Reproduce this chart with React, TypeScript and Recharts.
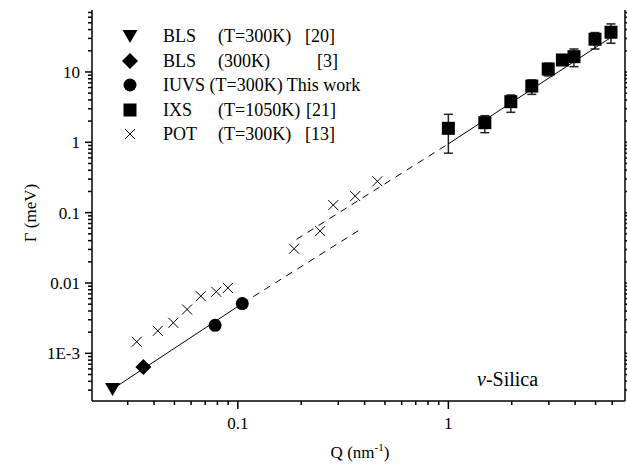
import React from 'react';
import { ScatterChart, Scatter, XAxis, YAxis, ErrorBar } from 'recharts';

// BLS (T=300K) [20]
const blsQ = [0.0254];
const blsG = [3.1e-4];
// BLS (300K) [3]
const bls3Q = [0.0356];
const bls3G = [6.4e-4];
// IUVS (T=300K) this work
const iuvsQ = [0.078, 0.105];
const iuvsG = [2.5e-3, 5.1e-3];
// POT (T=300K) [13]
const potQ = [0.0331, 0.0417, 0.0494, 0.0574, 0.0667, 0.079, 0.0897, 0.185, 0.246, 0.284, 0.361, 0.46];
const potG = [1.46e-3, 2.09e-3, 2.72e-3, 4.2e-3, 6.5e-3, 7.5e-3, 8.5e-3, 0.0307, 0.0547, 0.128, 0.172, 0.279];
// IXS (T=1050K) [21]
const ixsQ = [1.0, 1.49, 1.98, 2.49, 2.98, 3.48, 3.95, 4.97, 5.92];
const ixsG = [1.58, 1.9, 3.78, 6.3, 11.0, 14.8, 16.5, 29.2, 36.7];
const ixsLo = [0.7, 1.37, 2.67, 4.8, 8.8, 13.0, 11.9, 21.2, 25.6];
const ixsHi = [2.5, 2.39, 4.7, 7.7, 13.3, 16.5, 21.2, 36.3, 48.2];

// fit lines (end points)
const lowSolidQ = [0.0254, 0.105];
const lowSolidG = [3.1e-4, 5.1e-3];
const lowDashQ = [0.105, 0.39];
const lowDashG = [5.1e-3, 0.06];
const highDashQ = [0.19, 1.0];
const highDashG = [0.0417, 0.95];
const highSolidQ = [1.0, 6.3];
const highSolidG = [0.95, 35];

const xMajor = [0.1, 1];
const xMajorLabels = ['0.1', '1'];
const yMajor = [1e-3, 0.01, 0.1, 1, 10];
const yMajorLabels = ['1E-3', '0.01', '0.1', '1', '10'];
const minorSteps = [2, 3, 4, 5, 6, 7, 8, 9];

const xDomain = [0.0203, 6.9];
const yDomain = [2.1e-4, 76];

const within = (v: number, d: number[]) => v >= d[0] && v <= d[1];
const xTicks = [0.01, 0.1, 1]
  .flatMap((d) => [d, ...minorSteps.map((m) => +(m * d).toPrecision(3))])
  .filter((v) => within(v, xDomain));
const yTicks = [1e-4, 1e-3, 0.01, 0.1, 1, 10]
  .flatMap((d) => [d, ...minorSteps.map((m) => +(m * d).toPrecision(3))])
  .filter((v) => within(v, yDomain));

const pts = (qs: number[], gs: number[]) => qs.map((q, i) => ({ q, g: gs[i] }));
const ixsData = ixsQ.map((q, i) => ({ q, g: ixsG[i], err: [ixsG[i] - ixsLo[i], ixsHi[i] - ixsG[i]] }));

const FONT = 'Liberation Serif';

const isMajor = (v: number, list: number[]) => list.some((m) => Math.abs(m - v) / m < 1e-6);

const BottomTick = ({ x, y, payload }: any) => {
  const i = xMajor.findIndex((m) => Math.abs(m - payload.value) / m < 1e-6);
  return (
    <g>
      <line x1={x} x2={x} y1={y} y2={y + (i >= 0 ? 8 : 4)} stroke="#000" strokeWidth={1.5} />
      {i >= 0 && (
        <text x={x} y={y + 28} textAnchor="middle" fontFamily={FONT} fontSize={17} fill="#000">
          {xMajorLabels[i]}
        </text>
      )}
    </g>
  );
};
const TopTick = ({ x, y, payload }: any) => (
  <line x1={x} x2={x} y1={y} y2={y - (isMajor(payload.value, xMajor) ? 7 : 3)} stroke="#000" strokeWidth={1.5} />
);
const LeftTick = ({ x, y, payload }: any) => {
  const i = yMajor.findIndex((m) => Math.abs(m - payload.value) / m < 1e-6);
  return (
    <g>
      <line x1={x - (i >= 0 ? 7 : 4)} x2={x} y1={y} y2={y} stroke="#000" strokeWidth={1.5} />
      {i >= 0 && (
        <text x={x - 12} y={y + 6} textAnchor="end" fontFamily={FONT} fontSize={17} fill="#000">
          {yMajorLabels[i]}
        </text>
      )}
    </g>
  );
};
const RightTick = ({ x, y, payload }: any) => (
  <line x1={x} x2={x + (isMajor(payload.value, yMajor) ? 7 : 4)} y1={y} y2={y} stroke="#000" strokeWidth={1.5} />
);

const Triangle = ({ cx, cy }: any) => (
  <polygon points={`${cx - 7.5},${cy - 6} ${cx + 7.5},${cy - 6} ${cx},${cy + 7}`} fill="#000" />
);
const Diamond = ({ cx, cy }: any) => (
  <polygon points={`${cx},${cy - 8} ${cx + 8},${cy} ${cx},${cy + 8} ${cx - 8},${cy}`} fill="#000" />
);
const Dot = ({ cx, cy }: any) => <circle cx={cx} cy={cy} r={6.5} fill="#000" />;
const Square = ({ cx, cy }: any) => <rect x={cx - 6.5} y={cy - 6.5} width={13} height={13} fill="#000" />;
const Cross = ({ cx, cy }: any) => (
  <path d={`M${cx - 5},${cy - 5}L${cx + 5},${cy + 5}M${cx - 5},${cy + 5}L${cx + 5},${cy - 5}`} stroke="#000" strokeWidth={1} />
);
const NoDot = () => <g />;

const legendRows: { shape: any; cols: [string, number][] }[] = [
  { shape: Triangle, cols: [['BLS', 163], ['(T=300K)', 218], ['[20]', 305]] },
  { shape: Diamond, cols: [['BLS', 163], ['(300K)', 218], ['[3]', 317]] },
  { shape: Dot, cols: [['IUVS (T=300K) This work', 163]] },
  { shape: Square, cols: [['IXS', 163], ['(T=1050K)', 218], ['[21]', 306]] },
  { shape: Cross, cols: [['POT', 163], ['(T=300K)', 218], ['[13]', 305]] },
];
const legendY = [36, 61, 85, 110, 134];

export default function App() {
  return (
    <div style={{ position: 'absolute', left: 0, top: 0, width: 627, height: 468, background: '#fff' }}>
      <ScatterChart width={627} height={468} margin={{ top: 10, right: 0, bottom: 17, left: 0 }}>
        <XAxis
          type="number"
          dataKey="q"
          scale="log"
          domain={xDomain}
          allowDataOverflow
          ticks={xTicks}
          interval={0}
          tickSize={0}
          tickMargin={0}
          tickLine={false}
          tick={<BottomTick />}
          height={50}
          axisLine={{ stroke: '#000', strokeWidth: 1.5 }}
        />
        <XAxis
          xAxisId="top"
          orientation="top"
          type="number"
          dataKey="q"
          scale="log"
          domain={xDomain}
          allowDataOverflow
          ticks={xTicks}
          interval={0}
          tickSize={0}
          tickMargin={0}
          tickLine={false}
          tick={<TopTick />}
          height={0}
          axisLine={{ stroke: '#000', strokeWidth: 1.5 }}
        />
        <YAxis
          type="number"
          dataKey="g"
          scale="log"
          domain={yDomain}
          allowDataOverflow
          ticks={yTicks}
          interval={0}
          tickSize={0}
          tickMargin={0}
          tickLine={false}
          tick={<LeftTick />}
          width={92}
          axisLine={{ stroke: '#000', strokeWidth: 1.5 }}
        />
        <YAxis
          yAxisId="right"
          orientation="right"
          type="number"
          dataKey="g"
          scale="log"
          domain={yDomain}
          allowDataOverflow
          ticks={yTicks}
          interval={0}
          tickSize={0}
          tickMargin={0}
          tickLine={false}
          tick={<RightTick />}
          width={2}
          axisLine={{ stroke: '#000', strokeWidth: 1.5 }}
        />
        <Scatter data={pts(lowSolidQ, lowSolidG)} fill="#000" line={{ stroke: '#000', strokeWidth: 1 }} shape={<NoDot />} isAnimationActive={false} />
        <Scatter data={pts(lowDashQ, lowDashG)} fill="#000" line={{ stroke: '#000', strokeWidth: 1, strokeDasharray: '7 6' }} shape={<NoDot />} isAnimationActive={false} />
        <Scatter data={pts(highDashQ, highDashG)} fill="#000" line={{ stroke: '#000', strokeWidth: 1, strokeDasharray: '7 6' }} shape={<NoDot />} isAnimationActive={false} />
        <Scatter data={pts(highSolidQ, highSolidG)} fill="#000" line={{ stroke: '#000', strokeWidth: 1 }} shape={<NoDot />} isAnimationActive={false} />
        <Scatter data={pts(potQ, potG)} fill="#000" shape={<Cross />} isAnimationActive={false} />
        <Scatter data={ixsData} fill="#000" shape={<Square />} isAnimationActive={false}>
          <ErrorBar dataKey="err" direction="y" width={4.5} stroke="#222" strokeWidth={1.5} />
        </Scatter>
        <Scatter data={pts(iuvsQ, iuvsG)} fill="#000" shape={<Dot />} isAnimationActive={false} />
        <Scatter data={pts(bls3Q, bls3G)} fill="#000" shape={<Diamond />} isAnimationActive={false} />
        <Scatter data={pts(blsQ, blsG)} fill="#000" shape={<Triangle />} isAnimationActive={false} />
      </ScatterChart>
      <svg width={627} height={468} style={{ position: 'absolute', left: 0, top: 0, pointerEvents: 'none' }}>
        {legendRows.map((row, r) => {
          const Shape = row.shape;
          return (
            <g key={r}>
              <Shape cx={130} cy={legendY[r]} />
              {row.cols.map(([t, x]) => (
                <text key={t} x={x} y={legendY[r] + 6} fontFamily={FONT} fontSize={18} fill="#000" style={{ whiteSpace: 'pre' }}>
                  {t}
                </text>
              ))}
            </g>
          );
        })}
        <text x={477} y={386} fontFamily={FONT} fontSize={20} fill="#000">
          <tspan fontStyle="italic">v</tspan>-Silica
        </text>
        <text x={360} y={458} textAnchor="middle" fontFamily={FONT} fontSize={17} fill="#000">
          Q (nm<tspan dy={-7} fontSize={11}>-1</tspan><tspan dy={7}>)</tspan>
        </text>
        <text transform="translate(36,213) rotate(-90)" textAnchor="middle" fontFamily={FONT} fontSize={17} fill="#000">
          Γ (meV)
        </text>
      </svg>
    </div>
  );
}
